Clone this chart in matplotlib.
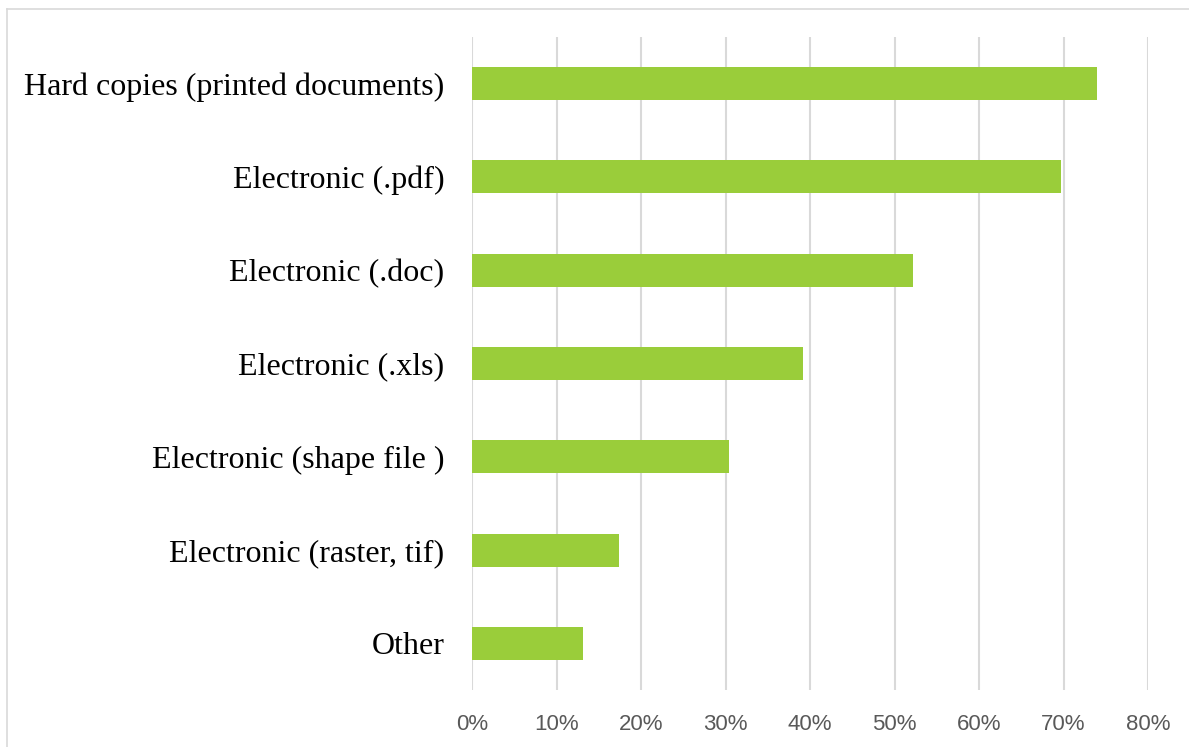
import matplotlib.pyplot as plt
from matplotlib.lines import Line2D
from matplotlib.ticker import PercentFormatter

categories = [
    "Hard copies (printed documents)",
    "Electronic (.pdf)",
    "Electronic (.doc)",
    "Electronic (.xls)",
    "Electronic (shape file )",
    "Electronic (raster, tif)",
    "Other",
]
shares = [74.0, 69.7, 52.2, 39.2, 30.4, 17.4, 13.1]
x_ticks = [0, 10, 20, 30, 40, 50, 60, 70, 80]

fig = plt.figure(figsize=(11.89, 7.47), dpi=100)
ax = fig.add_axes([472 / 1189, 57 / 747, 676 / 1189, 653 / 747])

ax.barh(range(len(categories)), shares, height=0.355, color="#9ACD3A", zorder=3)

ax.set_xlim(0, 80)
ax.set_ylim(len(categories) - 0.5, -0.5)
ax.set_xticks(x_ticks)
ax.xaxis.set_major_formatter(PercentFormatter(decimals=0))
ax.set_yticks(range(len(categories)))
ax.set_yticklabels(categories, family="Liberation Serif", fontsize=23, color="black")

for lbl in ax.get_xticklabels():
    lbl.set_family(["Liberation Sans Narrow", "Liberation Sans"])
    lbl.set_fontsize(16)
    lbl.set_color("#595959")

ax.tick_params(axis="x", length=0, pad=17)
ax.tick_params(axis="y", length=0, pad=20)
ax.grid(axis="x", color="#D9D9D9", linewidth=1.5, zorder=0)
for side in ax.spines.values():
    side.set_visible(False)

# light frame around the chart area
fig.add_artist(Line2D([7 / 1189, 1.0], [1 - 9 / 747, 1 - 9 / 747],
                      transform=fig.transFigure, color="#D9D9D9", linewidth=1.2))
fig.add_artist(Line2D([7 / 1189, 7 / 1189], [0.0, 1 - 9 / 747],
                      transform=fig.transFigure, color="#D9D9D9", linewidth=1.2))

fig.savefig("out.png", dpi=100)
